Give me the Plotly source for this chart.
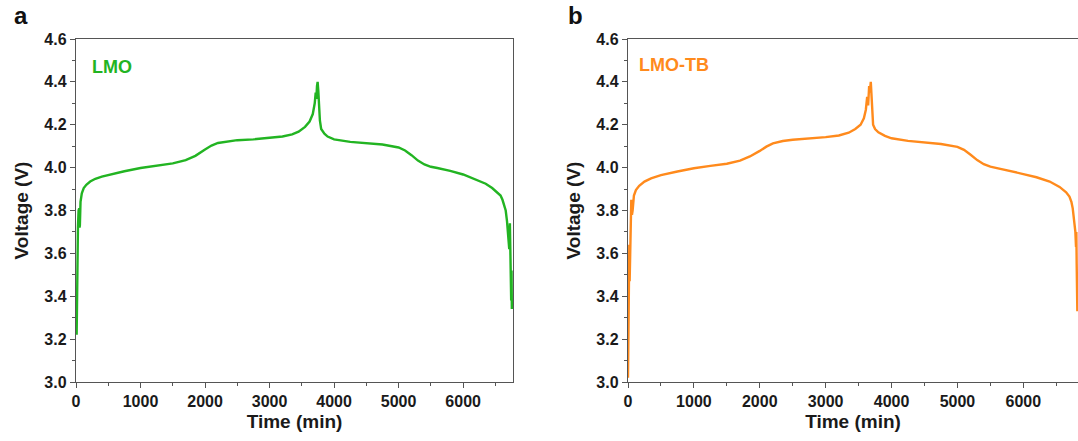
import plotly.graph_objects as go

# Panel a: LMO
t_lmo = [10, 15, 20, 30, 40, 50, 55, 60, 70, 90, 120, 160, 220, 300, 400, 500, 750, 1000, 1250, 1500,
         1700, 1850, 2000, 2100, 2200, 2350, 2500, 2750, 3000, 3200, 3350, 3450, 3550, 3620, 3670, 3700,
         3715, 3725, 3735, 3745, 3755, 3765, 3780, 3800, 3850, 3900, 4000, 4250, 4500, 4750, 5000, 5100,
         5200, 5300, 5400, 5500, 5600, 5800, 6000, 6200, 6350, 6450, 6530, 6580, 6610, 6640, 6660, 6680,
         6700, 6715, 6725, 6730, 6740, 6745, 6750, 6755]
v_lmo = [3.22, 3.40, 3.60, 3.72, 3.80, 3.81, 3.72, 3.73, 3.84, 3.88, 3.905, 3.92, 3.935, 3.948, 3.958,
         3.966, 3.983, 3.998, 4.010, 4.020, 4.035, 4.055, 4.085, 4.103, 4.115, 4.123, 4.128, 4.132, 4.138,
         4.145, 4.155, 4.168, 4.190, 4.215, 4.250, 4.300, 4.350, 4.320, 4.380, 4.400, 4.360, 4.300, 4.220,
         4.180, 4.158, 4.145, 4.132, 4.120, 4.115, 4.108, 4.094, 4.080, 4.058, 4.033, 4.015, 4.004, 3.998,
         3.985, 3.968, 3.945, 3.925, 3.905, 3.885, 3.870, 3.850, 3.820, 3.800, 3.750, 3.680, 3.620, 3.740,
         3.620, 3.500, 3.380, 3.520, 3.340]

# Panel b: LMO-TB
t_tb = [0, 8, 15, 20, 25, 30, 40, 50, 60, 70, 90, 120, 170, 250, 350, 500, 750, 1000, 1250, 1500, 1700,
        1850, 2000, 2100, 2200, 2350, 2500, 2750, 3000, 3200, 3350, 3450, 3530, 3580, 3610, 3630, 3645,
        3660, 3670, 3685, 3695, 3705, 3720, 3750, 3800, 3900, 4000, 4250, 4500, 4750, 5000, 5100, 5200,
        5300, 5400, 5500, 5600, 5800, 6000, 6200, 6400, 6550, 6650, 6700, 6730, 6750, 6770, 6790, 6800,
        6805, 6810, 6815, 6820, 6822]
v_tb = [3.02, 3.20, 3.45, 3.64, 3.47, 3.60, 3.70, 3.85, 3.78, 3.80, 3.87, 3.895, 3.915, 3.935, 3.950,
        3.965, 3.982, 3.997, 4.008, 4.018, 4.033, 4.052, 4.078, 4.098, 4.113, 4.124, 4.130, 4.135, 4.142,
        4.150, 4.163, 4.180, 4.200, 4.230, 4.270, 4.330, 4.290, 4.380, 4.350, 4.400, 4.340, 4.270, 4.200,
        4.180, 4.165, 4.148, 4.137, 4.125, 4.118, 4.110, 4.097, 4.083, 4.060, 4.035, 4.016, 4.005, 3.998,
        3.985, 3.970, 3.955, 3.935, 3.910, 3.885, 3.865, 3.840, 3.810, 3.760, 3.700, 3.630, 3.700, 3.550,
        3.420, 3.330, 3.500]

y_ticks = [3.0, 3.2, 3.4, 3.6, 3.8, 4.0, 4.2, 4.4, 4.6]
y_tick_text = ["3.0", "3.2", "3.4", "3.6", "3.8", "4.0", "4.2", "4.4", "4.6"]
x_ticks = [0, 1000, 2000, 3000, 4000, 5000, 6000]

GREEN = "#22b422"
ORANGE = "#ff8a1c"
FONT = "Arial, Liberation Sans, sans-serif"
AXC = "#555555"
TXT = "#1a1a1a"

W, H = 1078, 441
fig = go.Figure()
fig.add_trace(go.Scatter(x=t_lmo, y=v_lmo, mode="lines", line=dict(color=GREEN, width=2.4),
                         xaxis="x", yaxis="y", showlegend=False))
fig.add_trace(go.Scatter(x=t_tb, y=v_tb, mode="lines", line=dict(color=ORANGE, width=2.4),
                         xaxis="x2", yaxis="y2", showlegend=False))

ydom = [1 - 382 / H, 1 - 39 / H]
common_x = dict(tickvals=x_ticks, ticks="outside", ticklen=5, tickwidth=1.2, tickcolor=AXC,
                showline=True, linecolor=AXC, linewidth=1.4, showgrid=False, zeroline=False,
                automargin=False,
                tickfont=dict(family=FONT, size=16, color=TXT, weight="bold"),
                minor=dict(dtick=500, ticks="outside", ticklen=3, tickcolor=AXC, tickwidth=1),
                title=dict(text="<b>Time (min)</b>", font=dict(family=FONT, size=19, color=TXT),
                           standoff=5))
common_y = dict(tickvals=y_ticks, ticktext=y_tick_text, range=[3.0, 4.6], ticks="outside", ticklen=5,
                tickwidth=1.2, tickcolor=AXC, showline=True, linecolor=AXC, linewidth=1.4,
                showgrid=False, zeroline=False, automargin=False,
                tickfont=dict(family=FONT, size=16, color=TXT, weight="bold"),
                minor=dict(dtick=0.1, ticks="outside", ticklen=3, tickcolor=AXC, tickwidth=1),
                title=dict(text="<b>Voltage (V)</b>", font=dict(family=FONT, size=19, color=TXT),
                           standoff=10))

fig.update_layout(
    width=W, height=H, margin=dict(l=0, r=0, t=0, b=0, autoexpand=False),
    paper_bgcolor="white", plot_bgcolor="white",
    xaxis=dict(domain=[76 / W, 513 / W], range=[0, 6773], mirror=True, anchor="y", **common_x),
    yaxis=dict(domain=ydom, anchor="x", mirror=True, **common_y),
    xaxis2=dict(domain=[628 / W, 1.0], range=[0, 6830], mirror=True, anchor="y2", **common_x),
    yaxis2=dict(domain=ydom, anchor="x2", mirror=False, **common_y),
    annotations=[
        dict(text="<b>a</b>", x=12 / W, y=1 - 15 / H, xref="paper", yref="paper", showarrow=False,
             xanchor="left", yanchor="middle", font=dict(family=FONT, size=24, color="#111")),
        dict(text="<b>b</b>", x=566 / W, y=1 - 15 / H, xref="paper", yref="paper", showarrow=False,
             xanchor="left", yanchor="middle", font=dict(family=FONT, size=24, color="#111")),
        dict(text="<b>LMO</b>", x=90 / W, y=1 - 67 / H, xref="paper", yref="paper", showarrow=False,
             xanchor="left", yanchor="middle", font=dict(family=FONT, size=18, color=GREEN)),
        dict(text="<b>LMO-TB</b>", x=637 / W, y=1 - 65 / H, xref="paper", yref="paper", showarrow=False,
             xanchor="left", yanchor="middle", font=dict(family=FONT, size=18, color=ORANGE)),
    ],
)

fig.write_html("out.html")
